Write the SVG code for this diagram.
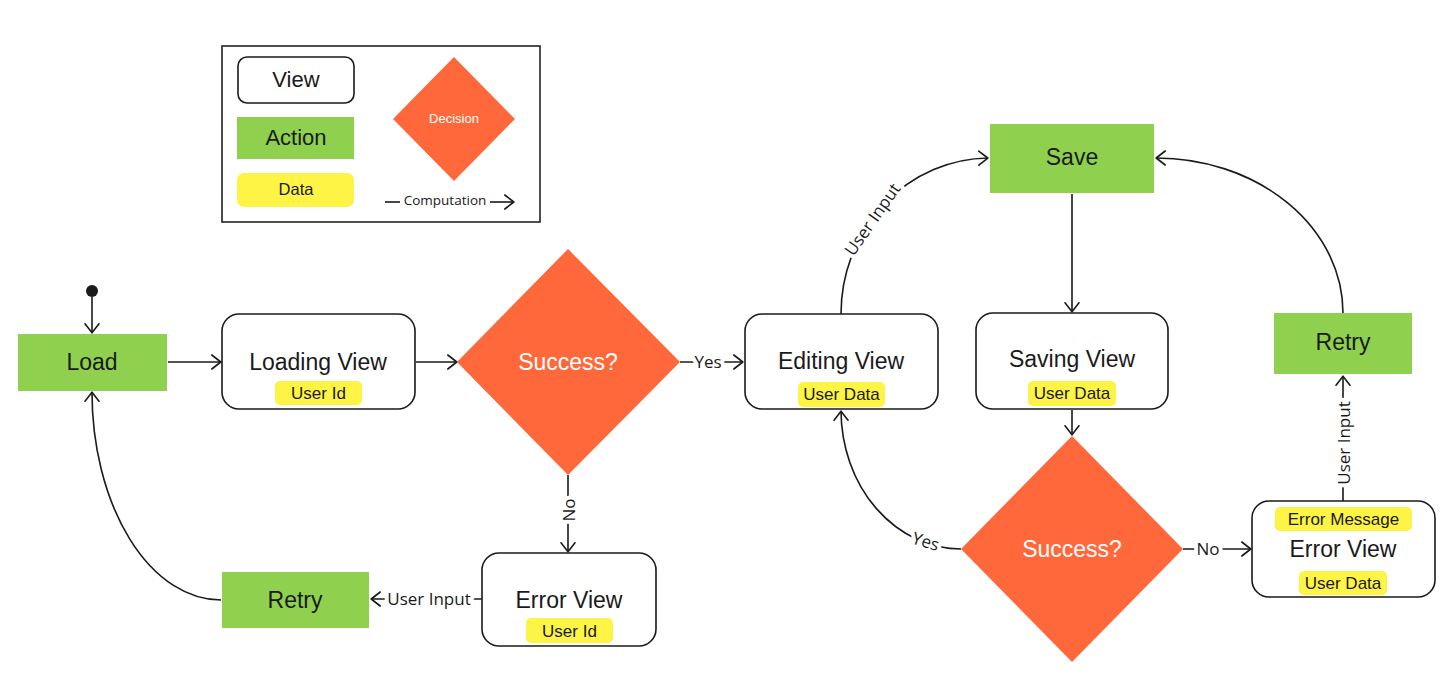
<svg xmlns="http://www.w3.org/2000/svg" width="1456" height="686" viewBox="0 0 1456 686">
<style>
.view{fill:#ffffff;stroke:#1a1a1a;stroke-width:1.6}
.action{fill:#8fd14f}
.data{fill:#fef445}
.dec{fill:#ff683b}
.t{font-family:"Liberation Sans",Arial,sans-serif;fill:#1a1a1a;text-anchor:middle;dominant-baseline:central}
.big{font-size:23px}
.sm{font-size:17px}
.wt{fill:#ffffff}
.edge{fill:none;stroke:#1a1a1a;stroke-width:1.6;marker-end:url(#arr)}
.line{fill:none;stroke:#1a1a1a;stroke-width:1.6}
.lbl{font-family:"Open Sans","DejaVu Sans",sans-serif;font-size:17px;fill:#1a1a1a;text-anchor:middle;dominant-baseline:central;stroke:#ffffff;stroke-width:8;paint-order:stroke;stroke-linejoin:round}
</style>
<defs>
<marker id="arr" viewBox="0 0 11 16" refX="10.2" refY="8" markerWidth="11" markerHeight="16" markerUnits="userSpaceOnUse" orient="auto">
<path d="M1,1 L10,8 L1,15" fill="none" stroke="#1a1a1a" stroke-width="1.6" stroke-linecap="round" stroke-linejoin="round"/>
</marker>
</defs>
<rect width="1456" height="686" fill="#ffffff"/>

<g id="legend">
<rect x="222" y="46" width="318" height="176" fill="#ffffff" stroke="#222222" stroke-width="1.6"/>
<rect class="view" x="238" y="57" width="116" height="46" rx="9"/>
<text class="t" style="font-size:22px" x="296" y="79">View</text>
<rect class="action" x="237" y="117" width="117" height="42"/>
<text class="t" style="font-size:22px" x="296" y="137">Action</text>
<rect class="data" x="237" y="173" width="117" height="34" rx="7"/>
<text class="t" style="font-size:16.5px" x="296" y="189">Data</text>
<polygon class="dec" points="454,57 515,119 454,181 393,119"/>
<text class="t wt" style="font-size:13px" x="454" y="118">Decision</text>
<line class="line" x1="385" y1="202" x2="400" y2="202"/>
<text class="lbl" style="font-size:13.5px" x="445" y="200">Computation</text>
<path class="edge" d="M490,202 L514,202"/>
</g>

<g id="connectors">
<circle cx="92" cy="291" r="6" fill="#1a1a1a"/>
<path class="edge" d="M92,297 L92,333"/>
<path class="edge" d="M168,362 L221,362"/>
<path class="edge" d="M416,362 L457,362"/>
<path class="edge" d="M680,362 L743,362"/>
<text class="lbl" x="708" y="361">Yes</text>
<path class="edge" d="M568,475 L568,552"/>
<text class="lbl" transform="translate(568,510) rotate(-90)" x="0" y="0">No</text>
<path class="edge" d="M482,599 L371,599"/>
<text class="lbl" x="429" y="598">User Input</text>
<path class="edge" d="M221,600 A129,208 0 0 1 92,392"/>
<path class="edge" d="M841,314 A149,156 0 0 1 988,158"/>
<text class="lbl" transform="translate(872,219) rotate(-55)" x="0" y="0">User Input</text>
<path class="edge" d="M1072,194 L1072,312"/>
<path class="edge" d="M1343,313 A187,155 0 0 0 1156,158"/>
<path class="edge" d="M1072,410 L1072,435"/>
<path class="edge" d="M961,549 A120,139 0 0 1 841,411"/>
<text class="lbl" transform="translate(926,541) rotate(17)" x="0" y="0">Yes</text>
<path class="edge" d="M1183,549 L1251,549"/>
<text class="lbl" x="1208" y="548">No</text>
<path class="edge" d="M1343,501 L1343,376"/>
<text class="lbl" transform="translate(1343,443) rotate(-90)" x="0" y="0">User Input</text>
</g>

<g id="load">
<rect class="action" x="18" y="334" width="149" height="57"/>
<text class="t big" x="92" y="362">Load</text>
</g>

<g id="loading-view">
<rect class="view" x="222" y="314" width="193" height="95" rx="17"/>
<text class="t big" x="318" y="362">Loading View</text>
<rect class="data" x="275" y="381" width="87" height="24" rx="5"/>
<text class="t sm" x="318.5" y="393.5">User Id</text>
</g>

<g id="success-1">
<polygon class="dec" points="568,249 680,362 568,475 457,362"/>
<text class="t big wt" x="568" y="362">Success?</text>
</g>

<g id="error-view-1">
<rect class="view" x="482" y="553" width="174" height="93" rx="17"/>
<text class="t big" x="569" y="600">Error View</text>
<rect class="data" x="526" y="618" width="87" height="25" rx="5"/>
<text class="t sm" x="569.5" y="631">User Id</text>
</g>

<g id="retry-1">
<rect class="action" x="222" y="572" width="147" height="56"/>
<text class="t big" x="295" y="600">Retry</text>
</g>

<g id="editing-view">
<rect class="view" x="745" y="314" width="193" height="95" rx="17"/>
<text class="t big" x="841" y="361">Editing View</text>
<rect class="data" x="798" y="382" width="87" height="25" rx="5"/>
<text class="t sm" x="841.5" y="394.5">User Data</text>
</g>

<g id="save">
<rect class="action" x="990" y="124" width="164" height="69"/>
<text class="t big" x="1072" y="157">Save</text>
</g>

<g id="saving-view">
<rect class="view" x="976" y="313" width="192" height="96" rx="17"/>
<text class="t big" x="1072" y="359">Saving View</text>
<rect class="data" x="1028" y="381" width="88" height="25" rx="5"/>
<text class="t sm" x="1072" y="393.5">User Data</text>
</g>

<g id="success-2">
<polygon class="dec" points="1072,436 1183,549 1072,662 961,549"/>
<text class="t big wt" x="1072" y="549">Success?</text>
</g>

<g id="error-view-2">
<rect class="view" x="1252" y="501" width="183" height="96" rx="17"/>
<rect class="data" x="1275" y="507" width="137" height="24" rx="5"/>
<text class="t sm" x="1343.5" y="519">Error Message</text>
<text class="t big" x="1343" y="548.5">Error View</text>
<rect class="data" x="1299" y="571" width="88" height="24" rx="5"/>
<text class="t sm" x="1343" y="583">User Data</text>
</g>

<g id="retry-2">
<rect class="action" x="1274" y="313" width="138" height="61"/>
<text class="t big" x="1343" y="342">Retry</text>
</g>
</svg>
